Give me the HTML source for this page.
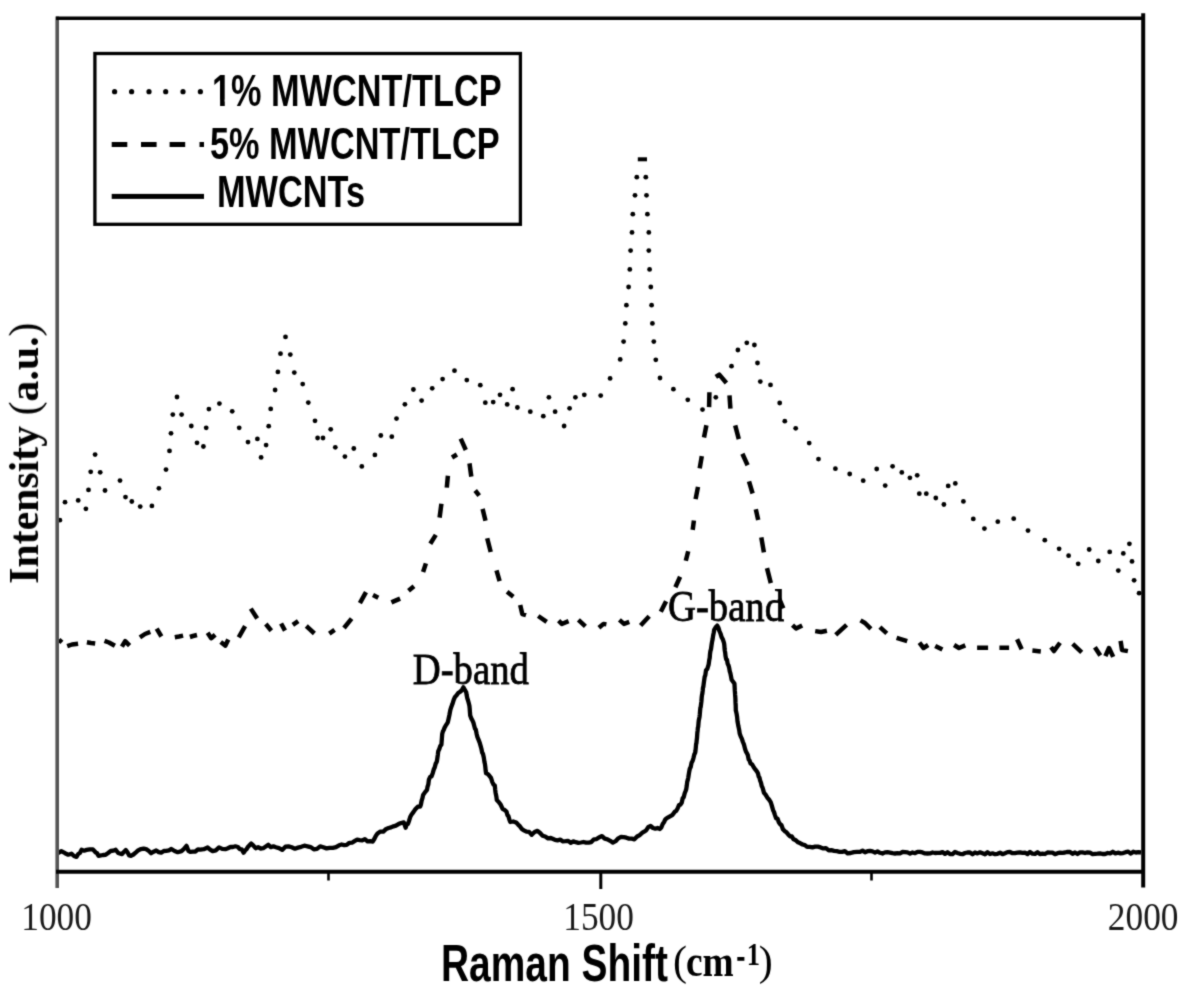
<!DOCTYPE html>
<html><head><meta charset="utf-8"><style>
html,body{margin:0;padding:0;background:#fff;width:1186px;height:1000px;overflow:hidden}
svg{display:block}
.sans{font-family:"Liberation Sans",sans-serif;font-weight:bold}
.serif{font-family:"Liberation Serif",serif}
</style></head><body>
<svg width="1186" height="1000" viewBox="0 0 1186 1000">
<defs><filter id="bl" color-interpolation-filters="sRGB" filterUnits="userSpaceOnUse" x="0" y="0" width="1186" height="1000"><feConvolveMatrix order="3" kernelMatrix="0.03 0.1 0.03 0.1 0.48 0.1 0.03 0.1 0.03" edgeMode="none" preserveAlpha="false"/></filter></defs>
<rect x="0" y="0" width="1186" height="1000" fill="#fff"/>
<g filter="url(#bl)">
<!-- curves -->
<path d="M57.5,853.4 61.3,851.1 65.1,853.2 68.2,854.7 71.4,853.7 74.0,856.0 76.5,856.9 78.2,854.0 79.9,853.0 81.6,849.8 84.1,850.7 86.6,849.9 89.8,849.3 92.9,849.4 95.5,852.3 97.0,853.1 98.6,855.9 103.1,855.0 105.6,854.8 108.1,853.0 110.7,851.0 113.2,850.7 115.7,849.8 118.2,853.0 122.0,854.2 123.9,851.9 125.8,850.0 127.5,852.3 129.2,855.5 130.9,855.8 133.4,854.5 135.9,852.4 138.4,850.2 141.0,849.1 143.6,848.6 146.1,849.1 148.6,850.8 151.1,853.2 153.6,851.7 156.2,850.5 158.7,852.1 161.2,852.7 163.8,851.0 166.3,850.9 168.9,850.4 171.4,849.0 174.6,851.0 177.7,852.2 181.5,851.1 184.0,848.9 186.5,845.9 188.4,850.8 190.3,851.9 192.9,851.7 195.4,851.5 197.9,849.4 200.4,849.6 203.8,849.2 207.6,847.5 210.1,849.6 212.6,851.1 215.8,850.3 219.0,847.4 222.2,848.9 225.3,849.2 227.9,848.2 230.4,847.0 232.9,847.0 235.4,846.3 237.9,847.0 239.8,849.2 241.7,849.4 243.6,852.7 245.1,850.5 246.6,849.2 248.1,846.7 251.2,843.5 253.4,845.6 255.6,848.2 258.1,847.1 260.7,848.5 263.2,848.2 265.8,846.5 268.3,844.8 270.8,847.2 273.4,846.3 275.9,847.2 279.0,848.1 282.2,849.9 285.4,846.7 288.5,846.4 291.7,847.3 294.9,848.7 298.0,847.6 301.2,846.8 304.4,845.7 307.5,846.3 310.6,847.1 313.8,849.3 317.0,848.8 320.1,846.3 323.3,847.3 326.5,848.4 329.6,847.8 332.8,847.8 336.0,847.1 339.1,845.3 341.6,844.5 344.2,845.2 346.7,844.9 349.4,842.8 352.0,842.7 354.5,841.1 357.1,839.7 359.7,840.1 362.3,840.4 364.9,839.1 367.5,841.3 370.1,841.1 372.7,841.5 374.3,839.0 375.9,835.8 377.5,833.6 380.4,831.6 383.3,831.6 386.2,828.9 388.6,828.0 391.0,827.4 393.5,826.3 395.9,825.7 398.5,824.1 401.1,823.0 403.7,822.4 404.6,824.6 405.6,827.7 406.8,824.3 407.9,823.9 409.1,820.7 410.2,817.1 411.4,814.8 413.4,812.1 415.3,809.3 417.8,806.7 420.2,806.5 420.9,804.5 421.6,800.8 422.4,798.4 423.1,795.0 425.1,792.1 427.0,789.8 427.6,786.4 428.3,784.5 428.9,779.7 430.2,776.8 431.5,776.4 432.8,772.9 433.8,769.3 434.7,767.5 435.7,763.6 436.6,762.1 437.0,760.6 437.4,757.9 437.8,755.0 438.2,751.4 439.3,749.0 440.3,745.9 441.4,744.7 441.7,740.9 441.9,738.3 442.2,734.0 443.0,731.1 443.8,729.8 444.6,727.6 446.2,724.8 447.8,722.3 448.6,718.8 449.4,715.0 450.3,710.1 451.2,707.2 452.5,703.8 453.7,699.9 455.0,696.9 456.6,695.3 458.2,693.1 459.8,692.0 461.6,690.5 463.4,687.3 466.2,692.2 466.7,695.3 467.3,698.2 467.8,699.7 468.6,702.5 469.4,705.7 469.7,708.6 469.9,711.6 470.2,715.5 471.4,718.6 472.6,720.8 473.4,722.6 474.2,725.7 475.0,728.7 475.8,729.7 476.6,733.7 477.4,737.0 478.6,739.9 479.8,743.0 480.6,745.9 481.4,748.8 482.2,752.7 483.0,754.0 483.8,757.5 484.5,762.2 484.9,763.8 485.3,766.7 485.7,770.9 486.1,773.3 487.7,773.9 489.4,775.8 491.0,777.8 492.3,782.1 493.5,784.5 494.8,785.5 495.2,789.8 495.6,792.9 496.0,794.8 496.4,796.8 496.8,800.0 498.7,801.9 500.6,804.5 502.6,808.8 504.5,809.9 506.5,811.6 507.4,815.0 508.4,816.2 509.4,819.7 510.3,822.0 513.2,821.5 516.2,822.6 518.1,824.6 520.0,826.4 522.0,829.2 523.9,830.3 526.5,831.7 529.1,831.9 531.7,834.8 534.6,832.0 537.5,830.8 540.1,833.0 542.6,835.7 545.2,836.5 548.0,838.4 550.8,838.0 554.9,839.8 557.6,840.3 560.2,839.7 562.9,841.3 565.6,841.2 568.2,840.9 570.7,842.9 573.3,841.4 575.8,842.2 578.4,842.9 580.9,842.5 583.5,842.0 586.0,842.6 588.6,842.7 591.3,842.1 594.0,839.3 596.6,839.1 599.3,837.2 602.0,836.1 604.7,838.6 607.5,839.3 610.2,840.8 612.9,842.6 615.6,841.2 618.3,838.3 621.0,836.9 623.7,837.1 626.4,837.7 629.0,838.6 631.7,838.6 634.4,839.3 637.1,836.5 639.8,835.1 642.0,832.9 644.1,831.7 646.3,830.2 648.4,826.9 650.6,826.0 653.0,828.0 655.3,828.7 657.6,828.0 660.0,829.0 661.4,827.3 662.7,824.0 664.1,822.0 665.4,819.2 666.8,818.2 669.5,816.7 672.2,815.2 674.9,811.6 676.3,810.8 677.6,808.5 679.0,805.1 680.3,804.7 681.7,802.7 682.7,798.2 683.7,797.3 684.7,793.3 685.7,790.8 686.2,789.3 686.7,786.2 687.2,781.9 687.8,779.8 688.3,777.3 688.8,774.2 689.3,771.2 689.8,768.8 690.7,767.0 691.6,762.6 692.5,761.2 693.4,758.3 694.3,754.5 695.2,752.6 695.5,750.6 695.8,747.6 696.1,743.9 696.4,743.4 696.7,740.2 697.0,737.9 697.3,733.2 697.6,730.8 697.9,727.6 698.2,726.9 698.5,723.1 698.8,720.3 699.2,718.5 699.5,717.1 699.8,714.4 700.1,710.5 700.4,707.7 700.7,707.1 701.1,703.7 701.4,701.5 701.7,697.5 702.0,694.9 702.3,693.9 702.7,690.8 703.0,687.4 703.3,686.9 703.7,683.7 704.0,681.5 704.7,676.6 705.3,675.3 706.0,670.2 707.3,668.9 708.6,664.7 709.0,661.9 709.3,659.8 709.7,658.1 710.0,654.0 710.4,651.1 711.0,649.1 711.5,645.4 712.0,642.1 712.6,639.2 713.1,635.7 713.7,632.9 714.2,629.9 715.7,627.2 717.2,625.6 718.3,627.5 719.4,631.0 720.5,633.5 721.6,637.1 722.8,639.3 724.0,642.9 724.3,644.8 724.6,649.1 724.9,651.1 725.2,652.8 725.5,655.9 726.2,659.4 727.0,659.9 727.7,664.0 728.5,665.4 729.2,668.0 729.8,671.6 730.4,673.3 731.0,676.4 731.6,679.7 734.4,683.6 734.5,684.5 734.7,688.2 734.8,690.4 735.0,692.8 735.1,694.7 735.3,697.1 735.4,698.9 735.5,702.4 735.7,705.5 735.8,710.4 736.2,711.9 736.7,714.4 737.1,716.9 737.5,721.4 738.0,724.1 738.4,726.3 738.8,728.1 739.3,730.7 739.7,733.5 740.8,736.6 741.8,738.6 742.9,742.0 743.9,744.3 745.0,748.7 745.9,751.4 746.8,753.1 747.8,755.0 748.7,759.5 749.6,760.6 750.5,763.4 752.2,764.5 753.9,767.5 755.5,769.7 757.2,771.8 758.0,773.5 758.7,776.6 759.5,777.8 760.2,780.8 761.0,782.8 761.7,786.0 762.5,787.5 763.2,789.9 764.0,792.9 765.7,794.8 767.4,797.7 769.0,799.5 770.7,802.1 771.5,804.6 772.3,807.4 773.2,810.5 774.0,812.0 774.8,814.6 776.1,818.4 777.5,818.6 778.8,822.2 780.2,824.3 781.5,825.1 782.9,829.2 784.7,831.1 786.5,832.3 788.2,834.4 790.0,836.3 791.8,836.5 793.6,839.3 795.9,840.3 798.1,842.3 800.4,843.3 802.6,844.5 804.9,845.1 807.1,846.9 809.8,846.9 812.5,847.4 815.2,846.7 817.9,846.7 820.6,847.4 823.3,848.4 826.0,848.2 828.7,850.4 831.4,850.2 834.1,850.8 836.8,851.2 839.5,851.8 842.2,851.8 844.9,851.1 847.6,853.4 850.7,853.0 853.8,852.1 856.9,851.9 860.0,851.9 862.5,850.6 865.0,852.3 867.5,851.2 870.0,850.9 872.5,851.4 875.0,852.6 877.5,851.4 880.0,852.8 882.5,853.5 885.0,852.4 887.5,852.2 890.0,852.6 892.5,853.2 895.0,853.5 897.5,853.2 900.0,853.3 902.5,852.0 905.0,852.2 907.5,852.4 910.0,853.6 912.5,852.5 915.0,853.2 917.5,851.8 920.0,851.9 922.5,852.4 925.0,853.4 927.5,853.5 930.0,853.4 932.5,852.5 935.0,853.0 937.5,852.9 940.0,852.9 942.5,852.1 945.0,853.9 947.5,852.3 950.0,854.1 952.5,854.1 955.0,851.9 957.5,852.9 960.0,853.8 962.5,854.2 965.0,853.0 967.5,852.5 970.0,852.4 972.5,854.2 975.0,852.5 977.5,853.4 980.0,852.3 982.5,853.3 985.0,854.3 987.5,852.3 990.0,854.0 992.5,853.3 995.0,854.2 997.5,853.8 1000.0,852.7 1002.5,854.2 1005.0,853.2 1007.5,852.1 1010.0,852.0 1012.5,853.2 1015.0,853.1 1017.5,852.7 1020.0,852.3 1022.5,852.8 1025.0,852.7 1027.5,854.0 1030.0,851.9 1032.5,853.7 1035.0,853.9 1037.5,852.2 1040.0,854.1 1042.5,853.6 1045.0,854.0 1047.5,852.5 1050.0,852.7 1052.5,852.7 1055.0,854.2 1057.5,853.2 1060.0,852.7 1062.5,852.8 1065.0,852.5 1067.5,851.9 1070.0,852.0 1072.5,853.8 1075.0,852.5 1077.5,854.0 1080.0,852.4 1082.5,852.4 1085.0,853.0 1087.5,852.3 1090.0,852.7 1092.5,854.1 1095.0,853.9 1097.5,853.7 1100.0,853.3 1102.6,854.0 1105.1,854.0 1107.7,853.0 1110.2,853.4 1112.8,851.8 1115.4,853.4 1117.9,852.7 1120.5,853.4 1123.1,853.1 1125.6,852.2 1128.2,851.6 1130.8,853.6 1133.3,851.7 1135.9,852.5 1138.4,852.2 1141.0,852.5" fill="none" stroke="#000" stroke-width="4.3" stroke-linejoin="round"/>
<path d="M58.9,639.6 61.9,642.4 M67.2,646.2 72.0,644.5 78.1,643.7 M86.9,642.2 91.0,643.0 95.2,643.5 M104.5,640.8 109.0,642.5 114.9,645.8 M121.9,646.6 125.2,641.1 129.6,645.6 M139.9,637.4 145.0,634.0 150.3,631.9 M156.7,628.6 161.4,636.5 M174.8,637.2 179.0,636.5 183.1,635.6 M189.9,637.0 193.0,636.0 197.0,635.0 M207.6,632.8 211.2,638.2 215.2,634.7 M220.7,642.0 225.4,645.6 228.3,639.6 M238.7,637.4 245.1,626.2 M250.8,608.6 257.2,618.5 M265.8,624.0 271.3,630.7 M281.1,623.5 285.0,630.6 M292.8,624.9 298.2,621.1 M306.3,626.0 314.4,633.5 M329.3,633.6 334.6,629.9 M344.0,628.0 351.6,618.6 M359.9,603.2 366.0,592.1 M373.0,595.1 378.3,597.8 M391.4,602.4 400.1,598.6 M408.5,590.7 414.0,586.2 M423.1,572.0 425.9,563.4 M430.3,543.7 435.8,534.9 M439.6,517.6 441.4,503.7 M446.8,487.6 447.9,475.8 M452.0,457.5 456.9,454.5 M460.7,438.6 465.8,450.0 M469.5,463.4 471.3,476.6 M475.2,490.5 479.2,495.6 M482.6,508.9 485.5,520.8 M487.2,538.2 490.7,552.0 M496.5,570.4 499.6,581.2 M507.1,591.8 513.3,596.7 M520.2,605.0 522.3,614.0 526.0,615.2 M538.2,616.0 546.7,621.9 M558.6,620.7 561.8,623.9 568.6,621.1 M578.4,619.9 585.4,626.4 M598.9,627.8 603.5,623.9 606.4,624.4 M619.4,619.9 624.0,623.9 629.3,621.9 M640.6,625.5 649.2,616.2 M660.8,611.7 666.1,601.2 M675.4,587.2 680.1,576.8 M685.8,560.7 688.2,551.3 M692.7,529.9 693.9,520.5 M695.6,499.1 698.0,486.9 M699.7,468.3 701.8,456.1 M704.0,437.5 706.4,425.3 M709.1,407.1 709.4,392.3 M715.8,376.9 719.3,374.6 726.4,383.0 M729.5,395.4 730.4,408.6 M735.2,425.4 738.8,439.1 M742.4,453.8 747.6,465.2 M749.0,481.3 752.6,493.5 M755.8,509.3 758.2,520.1 M761.3,537.3 763.9,552.3 M767.0,568.1 770.8,583.1 M779.3,598.8 783.3,608.4 M792.5,625.1 796.0,628.5 802.2,625.4 M815.2,631.1 821.0,632.0 826.9,630.7 M835.7,634.9 846.6,624.8 M860.5,620.4 865.0,623.0 870.9,628.9 M879.9,627.2 886.8,633.4 M896.6,637.8 907.2,641.2 M919.4,642.7 923.5,648.0 928.2,645.0 M935.2,645.9 942.4,649.6 M954.1,645.0 959.0,648.0 965.3,645.4 M977.1,647.8 988.1,647.8 M999.4,647.8 1009.1,647.8 M1017.1,639.3 1021.7,649.2 M1032.4,650.6 1040.8,651.4 M1051.0,647.2 1054.0,651.0 1060.0,642.7 M1072.7,643.9 1081.7,652.3 M1094.9,647.2 1100.3,655.4 M1105.4,656.2 1109.0,648.0 1113.2,656.9 M1120.6,640.9 1122.0,650.0 1127.9,651.1" fill="none" stroke="#000" stroke-width="4.5" stroke-linejoin="round"/>
<g fill="#000"><circle cx="59.9" cy="520.2" r="2.4"/><circle cx="65.0" cy="502.2" r="2.4"/><circle cx="78.2" cy="500.4" r="2.4"/><circle cx="85.9" cy="508.8" r="2.4"/><circle cx="88.5" cy="489.9" r="2.4"/><circle cx="90.7" cy="471.8" r="2.4"/><circle cx="95.1" cy="454.6" r="2.4"/><circle cx="100.2" cy="472.3" r="2.4"/><circle cx="105.0" cy="490.5" r="2.4"/><circle cx="120.0" cy="480.6" r="2.4"/><circle cx="125.5" cy="497.1" r="2.4"/><circle cx="131.8" cy="501.5" r="2.4"/><circle cx="140.2" cy="506.6" r="2.4"/><circle cx="151.9" cy="505.9" r="2.4"/><circle cx="158.9" cy="488.3" r="2.4"/><circle cx="166.0" cy="469.6" r="2.4"/><circle cx="169.5" cy="450.9" r="2.4"/><circle cx="171.0" cy="433.3" r="2.4"/><circle cx="172.8" cy="414.6" r="2.4"/><circle cx="177.0" cy="397.0" r="2.4"/><circle cx="181.6" cy="414.6" r="2.4"/><circle cx="191.3" cy="426.0" r="2.4"/><circle cx="197.0" cy="442.8" r="2.4"/><circle cx="203.4" cy="446.5" r="2.4"/><circle cx="206.2" cy="427.8" r="2.4"/><circle cx="208.9" cy="409.1" r="2.4"/><circle cx="219.4" cy="403.6" r="2.4"/><circle cx="232.2" cy="411.3" r="2.4"/><circle cx="239.2" cy="427.8" r="2.4"/><circle cx="248.0" cy="442.1" r="2.4"/><circle cx="257.4" cy="438.9" r="2.4"/><circle cx="261.1" cy="457.4" r="2.4"/><circle cx="266.1" cy="445.1" r="2.4"/><circle cx="268.7" cy="426.2" r="2.4"/><circle cx="270.7" cy="408.9" r="2.4"/><circle cx="275.1" cy="390.0" r="2.4"/><circle cx="277.9" cy="371.9" r="2.4"/><circle cx="280.5" cy="353.7" r="2.4"/><circle cx="285.5" cy="336.9" r="2.4"/><circle cx="290.3" cy="354.6" r="2.4"/><circle cx="294.3" cy="372.6" r="2.4"/><circle cx="302.7" cy="384.1" r="2.4"/><circle cx="308.3" cy="402.6" r="2.4"/><circle cx="315.0" cy="420.8" r="2.4"/><circle cx="317.6" cy="438.0" r="2.4"/><circle cx="323.0" cy="438.0" r="2.4"/><circle cx="330.7" cy="429.3" r="2.4"/><circle cx="335.3" cy="447.3" r="2.4"/><circle cx="344.9" cy="456.6" r="2.4"/><circle cx="353.8" cy="448.5" r="2.4"/><circle cx="361.8" cy="466.4" r="2.4"/><circle cx="374.9" cy="454.9" r="2.4"/><circle cx="380.8" cy="435.5" r="2.4"/><circle cx="391.8" cy="436.7" r="2.4"/><circle cx="396.5" cy="418.6" r="2.4"/><circle cx="404.9" cy="404.3" r="2.4"/><circle cx="413.4" cy="389.5" r="2.4"/><circle cx="421.6" cy="400.6" r="2.4"/><circle cx="432.2" cy="388.3" r="2.4"/><circle cx="442.6" cy="379.1" r="2.4"/><circle cx="454.5" cy="370.7" r="2.4"/><circle cx="466.8" cy="380.1" r="2.4"/><circle cx="480.3" cy="385.2" r="2.4"/><circle cx="485.3" cy="402.7" r="2.4"/><circle cx="493.2" cy="402.1" r="2.4"/><circle cx="500.0" cy="394.8" r="2.4"/><circle cx="507.2" cy="404.4" r="2.4"/><circle cx="512.6" cy="389.2" r="2.4"/><circle cx="517.4" cy="407.5" r="2.4"/><circle cx="530.3" cy="411.7" r="2.4"/><circle cx="543.3" cy="416.2" r="2.4"/><circle cx="548.9" cy="397.3" r="2.4"/><circle cx="555.1" cy="411.7" r="2.4"/><circle cx="564.1" cy="426.0" r="2.4"/><circle cx="569.6" cy="408.3" r="2.4"/><circle cx="575.4" cy="397.3" r="2.4"/><circle cx="584.3" cy="394.8" r="2.4"/><circle cx="600.7" cy="395.6" r="2.4"/><circle cx="610.1" cy="378.4" r="2.4"/><circle cx="620.2" cy="359.4" r="2.4"/><circle cx="623.6" cy="341.6" r="2.4"/><circle cx="625.3" cy="323.4" r="2.4"/><circle cx="626.4" cy="305.2" r="2.4"/><circle cx="628.6" cy="287.0" r="2.4"/><circle cx="629.8" cy="269.4" r="2.4"/><circle cx="630.6" cy="250.6" r="2.4"/><circle cx="632.0" cy="232.4" r="2.4"/><circle cx="632.8" cy="214.2" r="2.4"/><circle cx="635.0" cy="195.3" r="2.4"/><circle cx="636.8" cy="177.2" r="2.4"/><circle cx="645.8" cy="177.2" r="2.4"/><circle cx="646.5" cy="195.3" r="2.4"/><circle cx="647.4" cy="214.2" r="2.4"/><circle cx="648.8" cy="232.4" r="2.4"/><circle cx="648.8" cy="250.6" r="2.4"/><circle cx="649.6" cy="269.4" r="2.4"/><circle cx="650.8" cy="287.0" r="2.4"/><circle cx="651.6" cy="305.2" r="2.4"/><circle cx="652.4" cy="323.4" r="2.4"/><circle cx="653.8" cy="341.6" r="2.4"/><circle cx="655.8" cy="359.8" r="2.4"/><circle cx="660.0" cy="378.0" r="2.4"/><circle cx="673.4" cy="389.2" r="2.4"/><circle cx="687.8" cy="399.8" r="2.4"/><circle cx="702.5" cy="409.6" r="2.4"/><circle cx="715.8" cy="397.3" r="2.4"/><circle cx="731.5" cy="366.2" r="2.4"/><circle cx="737.9" cy="350.0" r="2.4"/><circle cx="746.8" cy="342.8" r="2.4"/><circle cx="754.4" cy="345.0" r="2.4"/><circle cx="757.5" cy="363.0" r="2.4"/><circle cx="760.3" cy="381.6" r="2.4"/><circle cx="770.5" cy="384.9" r="2.4"/><circle cx="779.7" cy="403.0" r="2.4"/><circle cx="784.8" cy="421.2" r="2.4"/><circle cx="795.7" cy="428.3" r="2.4"/><circle cx="809.2" cy="443.1" r="2.4"/><circle cx="818.5" cy="459.1" r="2.4"/><circle cx="835.4" cy="468.7" r="2.4"/><circle cx="849.7" cy="474.0" r="2.4"/><circle cx="863.2" cy="480.7" r="2.4"/><circle cx="876.7" cy="469.0" r="2.4"/><circle cx="885.2" cy="485.6" r="2.4"/><circle cx="892.6" cy="466.3" r="2.4"/><circle cx="901.8" cy="472.4" r="2.4"/><circle cx="909.9" cy="477.8" r="2.4"/><circle cx="917.2" cy="475.3" r="2.4"/><circle cx="919.3" cy="493.7" r="2.4"/><circle cx="926.3" cy="493.7" r="2.4"/><circle cx="935.8" cy="498.0" r="2.4"/><circle cx="943.9" cy="504.5" r="2.4"/><circle cx="948.2" cy="485.9" r="2.4"/><circle cx="955.3" cy="483.4" r="2.4"/><circle cx="963.4" cy="501.4" r="2.4"/><circle cx="973.3" cy="518.9" r="2.4"/><circle cx="984.4" cy="528.6" r="2.4"/><circle cx="997.8" cy="521.7" r="2.4"/><circle cx="1013.7" cy="518.7" r="2.4"/><circle cx="1028.0" cy="530.6" r="2.4"/><circle cx="1044.8" cy="540.2" r="2.4"/><circle cx="1059.1" cy="548.8" r="2.4"/><circle cx="1068.6" cy="555.7" r="2.4"/><circle cx="1078.2" cy="563.8" r="2.4"/><circle cx="1089.2" cy="549.5" r="2.4"/><circle cx="1098.3" cy="561.0" r="2.4"/><circle cx="1109.7" cy="551.9" r="2.4"/><circle cx="1118.3" cy="570.6" r="2.4"/><circle cx="1123.3" cy="553.4" r="2.4"/><circle cx="1129.4" cy="543.8" r="2.4"/><circle cx="1132.0" cy="561.4" r="2.4"/><circle cx="1134.1" cy="580.3" r="2.4"/><circle cx="1139.1" cy="593.2" r="2.4"/><rect x="637.8" y="157.3" width="9.2" height="4"/></g>
<!-- frame -->
<line x1="57.2" y1="16.5" x2="57.2" y2="888" stroke="#555" stroke-width="3.6"/>
<line x1="56" y1="18.3" x2="1143" y2="18.3" stroke="#000" stroke-width="3.4"/>
<line x1="56" y1="871.8" x2="1143" y2="871.8" stroke="#000" stroke-width="4"/>
<line x1="1143.2" y1="13.3" x2="1143.2" y2="887.5" stroke="#000" stroke-width="4"/>
<line x1="600.8" y1="871" x2="600.8" y2="889" stroke="#000" stroke-width="3"/>
<line x1="328.5" y1="871" x2="328.5" y2="880.5" stroke="#000" stroke-width="2.6"/>
<line x1="871.5" y1="871" x2="871.5" y2="880.5" stroke="#000" stroke-width="2.6"/>
<!-- tick labels -->
<g class="serif" font-size="39.5" fill="#1a1a1a">
<text x="56.6" y="929.8" text-anchor="middle" transform="translate(56.6 0) scale(0.895 1) translate(-56.6 0)">1000</text>
<text x="598.6" y="929.8" text-anchor="middle" transform="translate(598.6 0) scale(0.895 1) translate(-598.6 0)">1500</text>
<text x="1143.2" y="929.8" text-anchor="middle" transform="translate(1143.2 0) scale(0.895 1) translate(-1143.2 0)">2000</text>
</g>
<!-- band labels -->
<g class="serif" font-size="43.5" fill="#000" stroke="#000" stroke-width="0.8">
<text x="412.8" y="683.8" transform="translate(412.8 0) scale(0.89 1) translate(-412.8 0)">D-band</text>
<text x="668" y="621.3" transform="translate(668 0) scale(0.89 1) translate(-668 0)">G-band</text>
</g>
<!-- axis titles -->
<text class="sans" font-size="51" x="441" y="981" transform="translate(441 0) scale(0.763 1) translate(-441 0)">Raman Shift</text>
<text class="serif" font-size="42" x="673" y="975">(</text>
<text class="serif" font-weight="bold" font-size="44" x="686" y="976" transform="translate(686 0) scale(0.85 1) translate(-686 0)">cm</text>
<rect x="737.3" y="957" width="7.1" height="3.8" fill="#000"/>
<text class="serif" font-weight="bold" font-size="32" x="746.8" y="965.5" transform="translate(746.8 0) scale(0.83 1) translate(-746.8 0)">1</text>
<text class="serif" font-size="42" x="758.8" y="975">)</text>
<text class="serif" font-weight="bold" font-size="41.8" transform="translate(38 583.8) rotate(-90)">Intensity <tspan font-weight="normal">(</tspan>a.u.<tspan font-weight="normal">)</tspan></text>
<!-- legend -->
<rect x="94.9" y="53.5" width="425.5" height="170.8" fill="#fff" stroke="#000" stroke-width="3.3"/>
<g fill="#000"><circle cx="114.6" cy="91.7" r="2.6"/><circle cx="131.6" cy="91.7" r="2.6"/><circle cx="149" cy="91.7" r="2.6"/><circle cx="165.7" cy="91.7" r="2.6"/><circle cx="183" cy="91.7" r="2.6"/><circle cx="200.4" cy="91.7" r="2.6"/></g>
<g fill="#000"><rect x="111.7" y="142" width="15.6" height="5"/><rect x="141" y="142" width="15.6" height="5"/><rect x="169.6" y="142" width="15.6" height="5"/><rect x="199.5" y="142" width="4.5" height="5"/></g>
<rect x="111.7" y="193.9" width="92.3" height="5" fill="#000"/>
<g class="sans" font-size="44" fill="#000">
<text x="212" y="106.2" transform="translate(212 0) scale(0.78 1) translate(-212 0)">1% MWCNT/TLCP</text>
<rect x="212.3" y="99.6" width="7.8" height="8" fill="#fff"/><rect x="224.75" y="99.6" width="7.5" height="8" fill="#fff"/>
<text x="210" y="158.9" transform="translate(210 0) scale(0.78 1) translate(-210 0)">5% MWCNT/TLCP</text>
<text x="217" y="207.4" transform="translate(217 0) scale(0.78 1) translate(-217 0)">MWCNTs</text>
</g>
</g>
</svg>
</body></html>
